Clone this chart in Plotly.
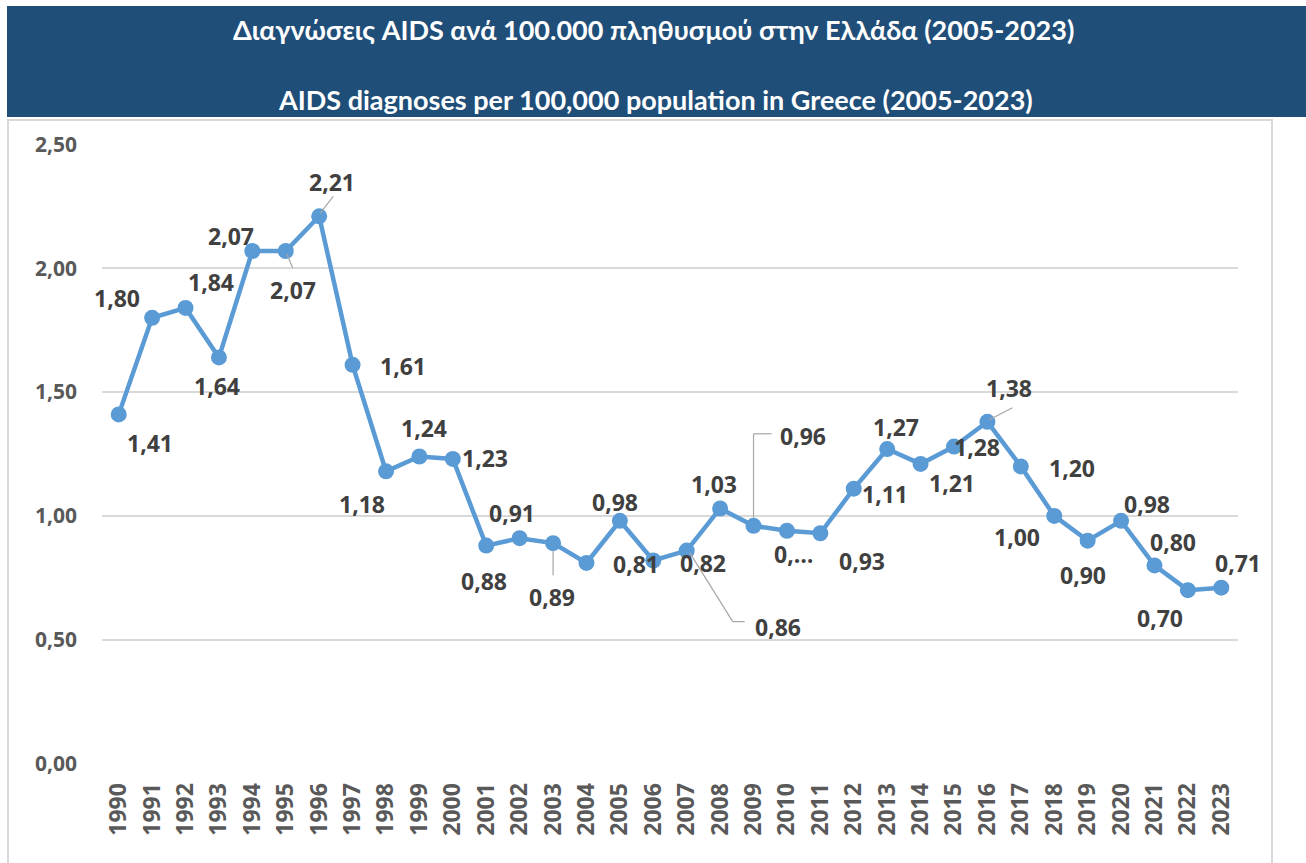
import plotly.graph_objects as go

years = list(range(1990, 2024))
values = [1.41, 1.80, 1.84, 1.64, 2.07, 2.07, 2.21, 1.61, 1.18, 1.24,
          1.23, 0.88, 0.91, 0.89, 0.81, 0.98, 0.82, 0.86, 1.03, 0.96,
          0.94, 0.93, 1.11, 1.27, 1.21, 1.28, 1.38, 1.20, 1.00, 0.90,
          0.98, 0.80, 0.70, 0.71]
label_override = {2010: "0,…"}

y_ticks = [0, 0.5, 1.0, 1.5, 2.0, 2.5]

title_gr = "Διαγνώσεις AIDS ανά 100.000 πληθυσμού στην Ελλάδα (2005-2023)"
title_en = "AIDS diagnoses per 100,000 population in Greece (2005-2023)"

# label offsets in screen pixels (dx right, dy down) relative to each point
label_offsets = [(31, 29), (-35, -20), (25, -26), (-2, 29), (-21, -15), (7, 39),
                 (13, -34), (50, 1), (-24, 33), (5, -28), (32, -1), (-2, 35),
                 (-8, -25), (-1, 54), (50, 1), (-5, -19), (50, 3), (91, 76),
                 (-6, -24), (49, -90), (7, 23), (42, 28), (31, 5), (9, -22),
                 (31, 19), (23, 0), (22, -34), (51, 2), (-37, 21), (-5, 34),
                 (26, -17), (19, -23), (-28, 28), (17, -25)]

# leader lines: year -> list of polyline points (screen px, dx right, dy down)
leaders = {
    1995: [(1, 3), (7, 17)],
    1996: [(1, -3), (14, -20)],
    2003: [(0, 8), (0, 32)],
    2007: [(3, 2), (46, 71), (58, 71)],
    2009: [(0, -8), (0, -92), (18, -92)],
    2016: [(2, -2), (25, -14)],
}

W, H = 1306, 863
LINE = "#5B9BD5"

fig = go.Figure()
fig.add_trace(go.Scatter(
    x=years, y=values, mode="lines+markers",
    line=dict(color=LINE, width=4.5),
    marker=dict(color=LINE, size=16),
    hoverinfo="skip", showlegend=False,
))

annotations = []
for yr, v, (dx, dy) in zip(years, values, label_offsets):
    txt = label_override.get(yr, f"{v:.2f}".replace(".", ","))
    annotations.append(dict(
        x=yr, y=v, xref="x", yref="y", text=txt, showarrow=False,
        xshift=dx, yshift=-dy, xanchor="center", yanchor="middle",
        font=dict(family="Open Sans", size=23, color="#404040", weight="bold"),
    ))

annotations += [
    dict(x=654 / W, y=1 - 29 / H, xref="paper", yref="paper", text=title_gr,
         showarrow=False, xanchor="center", yanchor="middle",
         font=dict(family="Lato", size=27, color="white", weight="bold")),
    dict(x=655 / W, y=1 - 100 / H, xref="paper", yref="paper", text=title_en,
         showarrow=False, xanchor="center", yanchor="middle",
         font=dict(family="Lato", size=27, color="white", weight="bold")),
]

shapes = [
    dict(type="rect", xref="paper", yref="paper", x0=7 / W, x1=1.0,
         y0=1 - 117 / H, y1=1 - 6 / H, fillcolor="#1F4E79", line=dict(width=0),
         layer="below"),
    dict(type="rect", xref="paper", yref="paper", x0=8 / W, x1=1272 / W,
         y0=-0.02, y1=1 - 120 / H, fillcolor="rgba(0,0,0,0)",
         line=dict(color="#D9D9D9", width=2), layer="below"),
]
vals_by_year = dict(zip(years, values))
for yr, pts in leaders.items():
    for (ax0, ay0), (ax1, ay1) in zip(pts[:-1], pts[1:]):
        shapes.append(dict(
            type="line", xref="x", yref="y", xsizemode="pixel", ysizemode="pixel",
            xanchor=yr, yanchor=vals_by_year[yr],
            x0=ax0, x1=ax1, y0=-ay0, y1=-ay1,
            line=dict(color="#A6A6A6", width=1.2), layer="above",
        ))

fig.update_layout(
    width=W, height=H,
    margin=dict(l=0, r=0, t=0, b=0),
    paper_bgcolor="white", plot_bgcolor="white",
    separators=",.",
    annotations=annotations, shapes=shapes,
    xaxis=dict(
        domain=[102 / W, 1238 / W], range=[1989.5, 2023.5],
        tickvals=years, ticktext=[str(y) for y in years], tickangle=-90,
        showgrid=False, zeroline=False, showline=False, ticks="",
        ticklabelstandoff=14, automargin=False,
        tickfont=dict(family="Open Sans", size=23, color="#595959", weight="bold"),
    ),
    yaxis=dict(
        domain=[1 - 763.5 / H, 1 - 144.5 / H], range=[0, 2.5],
        tickvals=y_ticks, tickformat=".2f",
        showgrid=True, gridcolor="#D9D9D9", gridwidth=1.5,
        zeroline=False, showline=False, ticks="",
        ticklabelstandoff=24, automargin=False,
        tickfont=dict(family="Open Sans", size=21, color="#595959", weight="bold"),
    ),
)

fig.write_html(
    "out.html",
    config={"displayModeBar": False},
    post_script="document.body.style.margin='0';document.body.style.overflow='hidden';",
)
